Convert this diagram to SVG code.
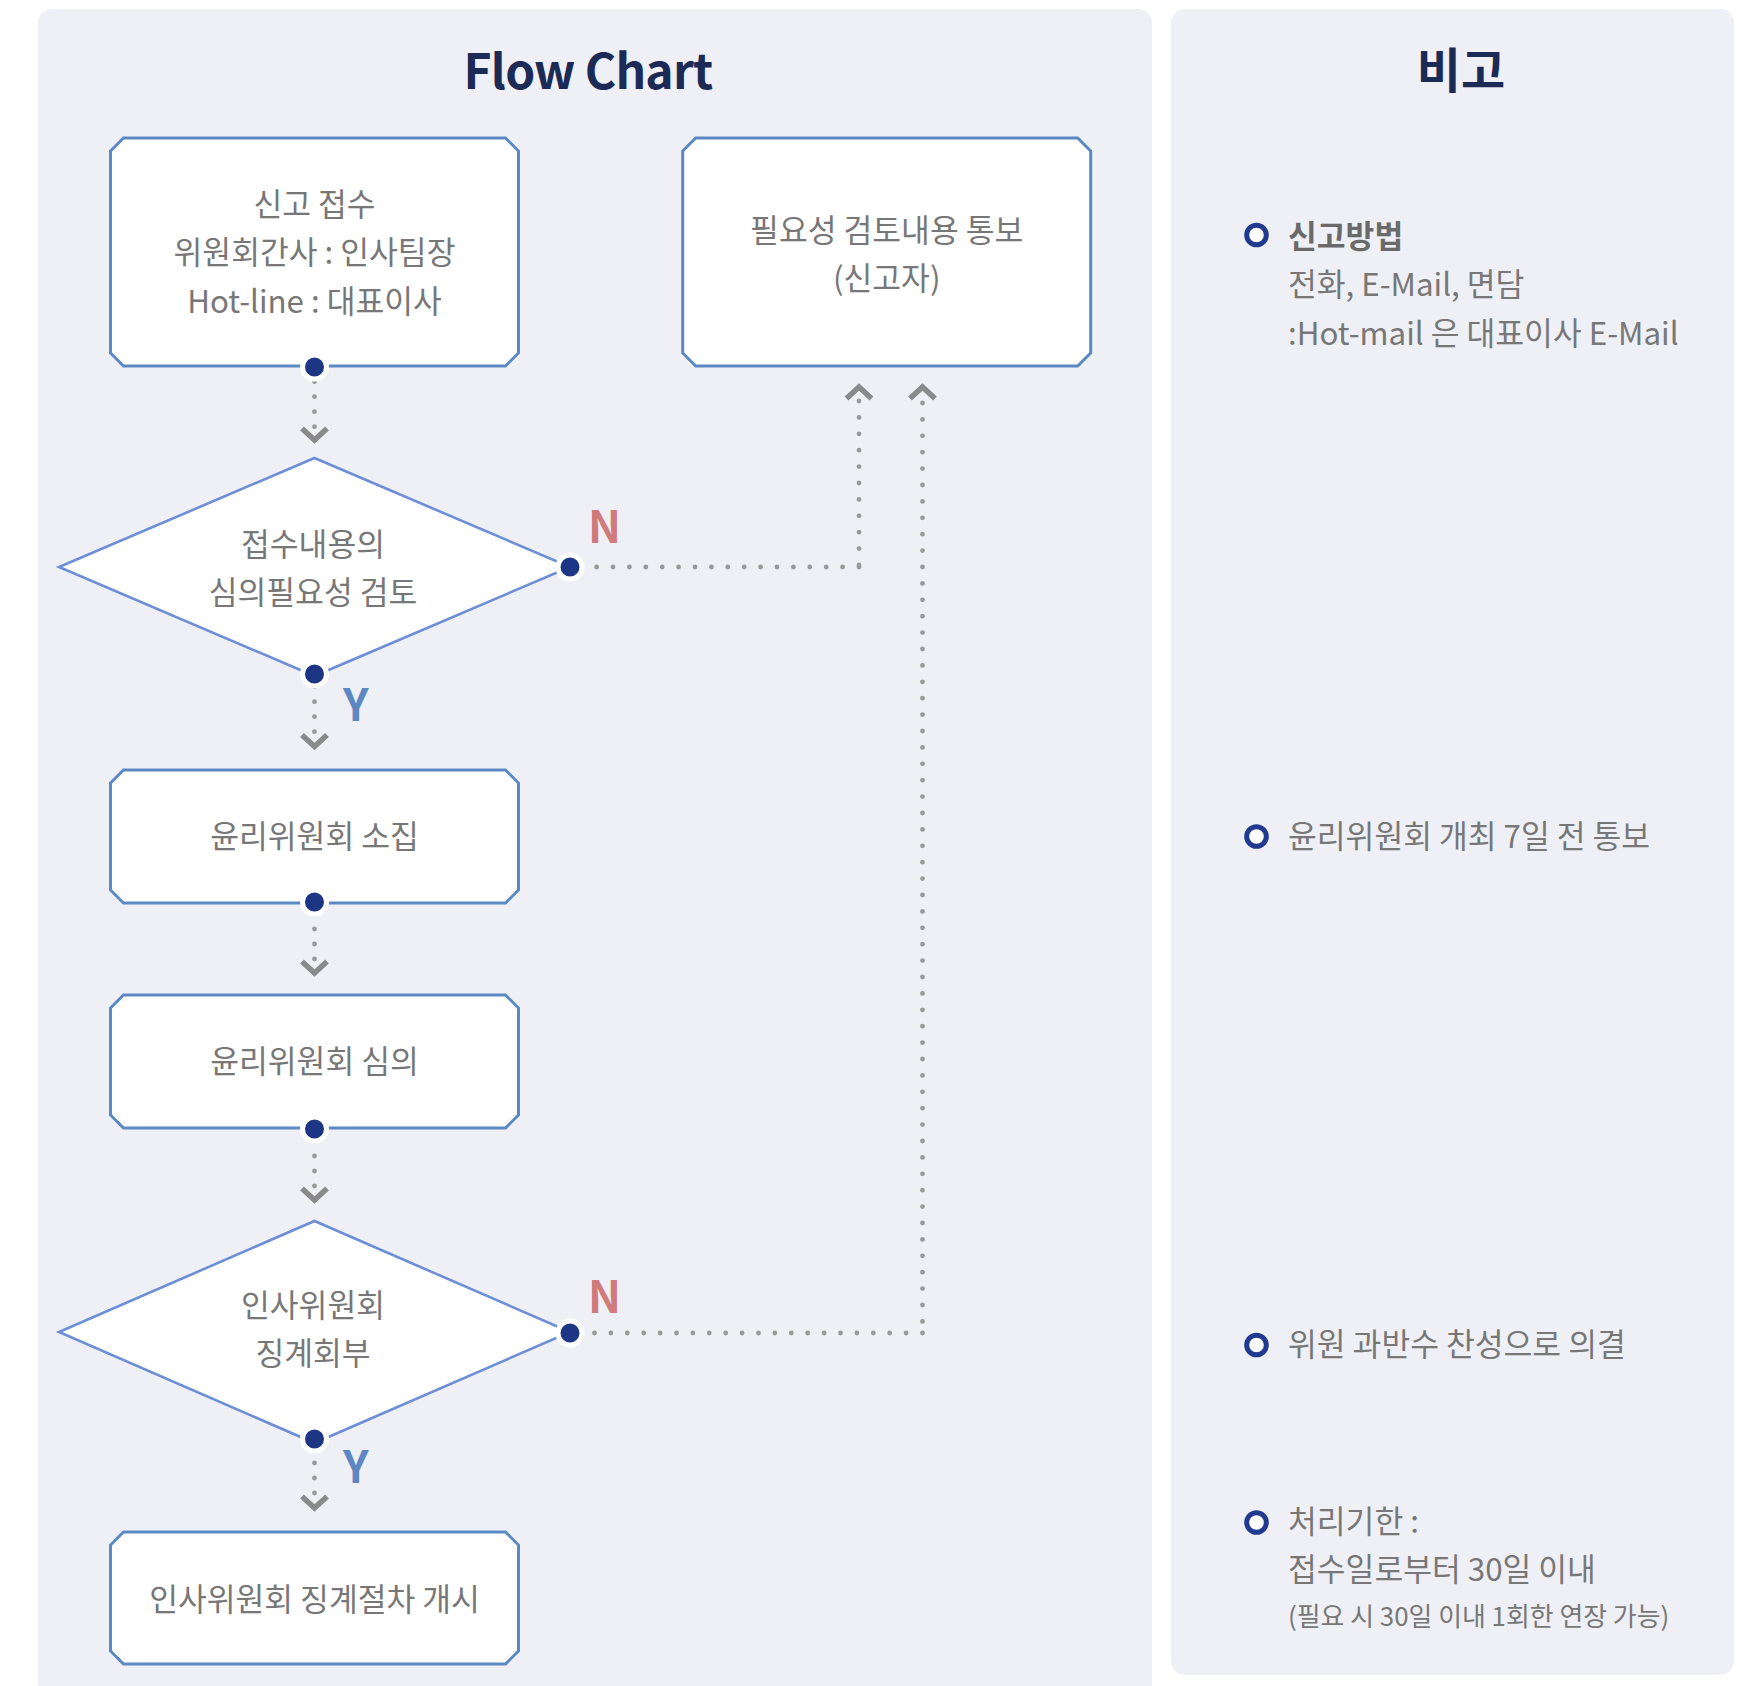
<svg xmlns="http://www.w3.org/2000/svg" xmlns:xlink="http://www.w3.org/1999/xlink" width="1752" height="1686" viewBox="0 0 1752 1686">
<style>
.panel{fill:#eff0f6}
.title{font-family:"Noto Sans CJK KR","Noto Sans",sans-serif;font-weight:700;fill:#1c2a56;text-anchor:middle}
.box{fill:#ffffff;stroke:#5b89c3;stroke-width:3}
.dia{fill:#ffffff;stroke:#6c8ed6;stroke-width:2.6}
.t{font-family:"Noto Sans CJK KR","Noto Sans",sans-serif;font-size:31.3px;fill:#777777}
.c{text-anchor:middle}
.b{font-weight:700;fill:#6a6a6a}
.sm{font-size:25.9px}
.pt{fill:#1c3585;stroke:#ffffff;stroke-width:5}
.dot{fill:none;stroke:#999999;stroke-width:4.8;stroke-linecap:round}
.s{stroke-dasharray:0 15}
.l{stroke-dasharray:0 16.4}
.chev{fill:none;stroke:#8a8a8a;stroke-width:5.5;stroke-linejoin:miter}
.n{font-family:"Noto Sans CJK KR","Noto Sans",sans-serif;font-size:44px;font-weight:700;fill:#d07b7b}
.y{font-family:"Noto Sans CJK KR","Noto Sans",sans-serif;font-size:44px;font-weight:700;fill:#5d87c0}
.ring{fill:#ffffff;stroke:#1f3a8f;stroke-width:5}
</style>
<defs>
<path id="down" d="M-12.5 -11.5 L0 0 L12.5 -11.5"/>
<path id="up" d="M-12.5 11.5 L0 0 L12.5 11.5"/>
</defs>
<rect width="1752" height="1686" fill="#ffffff"/>
<rect class="panel" x="38" y="9" width="1114" height="1700" rx="14"/>
<rect class="panel" x="1171" y="9" width="563" height="1666" rx="14"/>
<text class="title" x="588" y="89" font-size="48" letter-spacing="-0.8">Flow Chart</text>
<text class="title" x="1461" y="88" font-size="48">비고</text>

<g id="connectors">
<path class="dot s" d="M314.5 381.7 V427"/>
<path class="dot s" d="M314.5 686.7 V732"/>
<path class="dot s" d="M314.5 914 V960"/>
<path class="dot s" d="M314.5 1141 V1187"/>
<path class="dot s" d="M314.5 1448 V1494"/>
<path class="dot l" d="M859 401 V567"/>
<path class="dot l" d="M859 567 H580"/>
<path class="dot l" d="M922.5 403 V1333"/>
<path class="dot l" d="M922.5 1333 H580"/>
<use xlink:href="#down" class="chev" x="314.5" y="440"/>
<use xlink:href="#down" class="chev" x="314.5" y="746.5"/>
<use xlink:href="#down" class="chev" x="314.5" y="973"/>
<use xlink:href="#down" class="chev" x="314.5" y="1200"/>
<use xlink:href="#down" class="chev" x="314.5" y="1508"/>
<use xlink:href="#up" class="chev" x="859" y="387"/>
<use xlink:href="#up" class="chev" x="922.5" y="387"/>
<text class="n" x="588" y="543">N</text>
<text class="y" x="343" y="721">Y</text>
<text class="n" x="588" y="1313">N</text>
<text class="y" x="343" y="1483">Y</text>
</g>

<g id="node-report">
<polygon class="box" points="123.5,138 505.5,138 518.5,151 518.5,353 505.5,366 123.5,366 110.5,353 110.5,151"/>
<text class="t c" x="314.5" y="216">신고 접수</text>
<text class="t c" x="314.5" y="264">위원회간사 : 인사팀장</text>
<text class="t c" x="314.5" y="312.5">Hot-line : 대표이사</text>
</g>
<g id="node-notify">
<polygon class="box" points="695.7,138 1077.7,138 1090.7,151 1090.7,353 1077.7,366 695.7,366 682.7,353 682.7,151"/>
<text class="t c" x="886.7" y="242">필요성 검토내용 통보</text>
<text class="t c" x="886.7" y="290">(신고자)</text>
</g>
<g id="node-review">
<polygon class="dia" points="314.5,458 570,567 314.5,676 59,567"/>
<text class="t c" x="313" y="556">접수내용의</text>
<text class="t c" x="313" y="604">심의필요성 검토</text>
</g>
<g id="node-convene">
<polygon class="box" points="123.5,770 505.5,770 518.5,783 518.5,890 505.5,903 123.5,903 110.5,890 110.5,783"/>
<text class="t c" x="314.5" y="848">윤리위원회 소집</text>
</g>
<g id="node-deliberate">
<polygon class="box" points="123.5,995 505.5,995 518.5,1008 518.5,1115 505.5,1128 123.5,1128 110.5,1115 110.5,1008"/>
<text class="t c" x="314.5" y="1073">윤리위원회 심의</text>
</g>
<g id="node-refer">
<polygon class="dia" points="314.5,1221 570,1332 314.5,1443 59,1332"/>
<text class="t c" x="313" y="1317">인사위원회</text>
<text class="t c" x="313" y="1365">징계회부</text>
</g>
<g id="node-start">
<polygon class="box" points="123.5,1532 505.5,1532 518.5,1545 518.5,1651 505.5,1664 123.5,1664 110.5,1651 110.5,1545"/>
<text class="t c" x="314.5" y="1611">인사위원회 징계절차 개시</text>
</g>

<g id="ports">
<circle class="pt" cx="314.5" cy="367" r="12"/>
<circle class="pt" cx="314.5" cy="674" r="12"/>
<circle class="pt" cx="570" cy="567" r="12"/>
<circle class="pt" cx="314.5" cy="902" r="12"/>
<circle class="pt" cx="314.5" cy="1129" r="12"/>
<circle class="pt" cx="314.5" cy="1439" r="12"/>
<circle class="pt" cx="570" cy="1333" r="12"/>
</g>

<g id="notes">
<circle class="ring" cx="1256.5" cy="235" r="9.8"/>
<text class="t b" x="1288" y="248">신고방법</text>
<text class="t" x="1288" y="296">전화, E-Mail, 면담</text>
<text class="t" x="1288" y="344.5">:Hot-mail 은 대표이사 E-Mail</text>
<circle class="ring" cx="1256.5" cy="836.5" r="9.8"/>
<text class="t" x="1288" y="848">윤리위원회 개최 7일 전 통보</text>
<circle class="ring" cx="1256.5" cy="1345" r="9.8"/>
<text class="t" x="1288" y="1356">위원 과반수 찬성으로 의결</text>
<circle class="ring" cx="1256.5" cy="1522.5" r="9.8"/>
<text class="t" x="1288" y="1533">처리기한 :</text>
<text class="t" x="1288" y="1581">접수일로부터 30일 이내</text>
<text class="t sm" x="1288" y="1626">(필요 시 30일 이내 1회한 연장 가능)</text>
</g>
</svg>
